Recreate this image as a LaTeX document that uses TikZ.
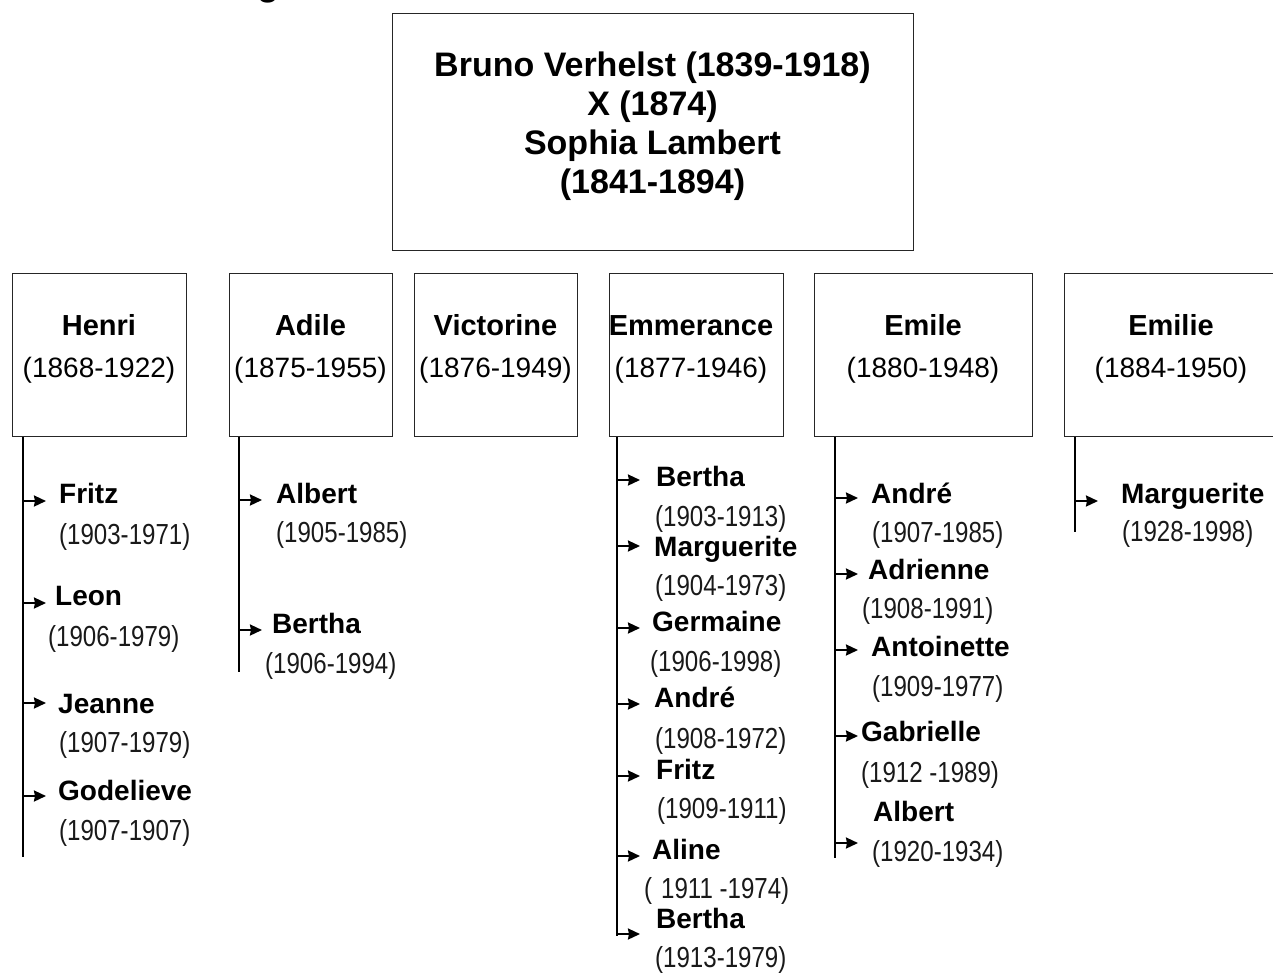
\documentclass[tikz,border=0pt]{standalone}
\usepackage{fontspec}
\setmainfont{Liberation Sans}
\newfontfamily\datefont[FakeStretch=0.83]{Liberation Sans}
\usetikzlibrary{arrows.meta}
\tikzset{
  box/.style={draw=black!85, line width=1.3pt, inner sep=0pt, anchor=north west},
  vline/.style={draw=black, line width=1.3pt},
  arr/.style={draw=black, line width=2.2pt, -{Stealth[length=12pt,width=11pt,inset=1pt]}},
  topline/.style={font=\bfseries\fontsize{34}{39}\selectfont, align=center, inner sep=0pt},
  cname/.style={anchor=base, inner sep=0pt, font=\bfseries\fontsize{29}{30}\selectfont},
  cdate/.style={anchor=base, inner sep=0pt, font=\fontsize{28}{30}\selectfont},
  gname/.style={anchor=base west, inner sep=0pt, font=\bfseries\fontsize{28}{30}\selectfont},
  gdate/.style={anchor=base west, inner sep=0pt, text=black!90, font=\datefont\fontsize{29}{30}\selectfont},
}
\newcommand{\gkid}[9]{%
  \coordinate (#1a) at (#2,#3);
  \node[gname] (#1n) at (#4,#5) {#6};
  \node[gdate] (#1d) at (#7,#8) {#9};
  \draw[arr] (#1a) -- ++(23,0) coordinate (#1e);
}
\begin{document}
\begin{tikzpicture}[x=1pt,y=-1pt]
\clip (0,0) rectangle (1273,972);
\fill[white] (0,0) rectangle (1273,972);

% cut-off title fragment
\node[anchor=base west, inner sep=0pt, font=\bfseries\fontsize{36}{40}\selectfont] (title) at (257,-5) {g};

% parents
\node[box, minimum width=521pt, minimum height=237pt] (top) at (392,13) {};
\node[topline, anchor=north] (topt) at (652.5,52) {Bruno Verhelst (1839-1918)\\X (1874)\\Sophia Lambert\\(1841-1894)};

% children boxes
\node[box, minimum width=174pt, minimum height=163pt] (henri) at (12,273) {};
\node[box, minimum width=163pt, minimum height=163pt] (adile) at (229,273) {};
\node[box, minimum width=163pt, minimum height=163pt] (victorine) at (414,273) {};
\node[box, minimum width=174pt, minimum height=163pt] (emmerance) at (609,273) {};
\node[box, minimum width=218pt, minimum height=163pt] (emile) at (814,273) {};
\node[box, minimum width=214pt, minimum height=163pt] (emilie) at (1064,273) {};

\node[cname] (henriN) at (99,335) {Henri};
\node[cdate] (henriD) at (99,377) {(1868-1922)};
\node[cname] (adileN) at (310.5,335) {Adile};
\node[cdate] (adileD) at (310.5,377) {(1875-1955)};
\node[cname] (victorineN) at (495.5,335) {Victorine};
\node[cdate] (victorineD) at (495.5,377) {(1876-1949)};
\node[cname] (emmeranceN) at (691,335) {Emmerance};
\node[cdate] (emmeranceD) at (691,377) {(1877-1946)};
\node[cname] (emileN) at (923,335) {Emile};
\node[cdate] (emileD) at (923,377) {(1880-1948)};
\node[cname] (emilieN) at (1171,335) {Emilie};
\node[cdate] (emilieD) at (1171,377) {(1884-1950)};

% vertical lines
\coordinate (hB) at (23,857);
\coordinate (aB) at (239,672);
\coordinate (mB) at (617,936);
\coordinate (eB) at (835,858);
\coordinate (iB) at (1075,532);
\draw[vline] (henri.south west -| hB) -- (hB);
\draw[vline] (adile.south west -| aB) -- (aB);
\draw[vline] (emmerance.south west -| mB) -- (mB);
\draw[vline] (emile.south west -| eB) -- (eB);
\draw[vline] (emilie.south west -| iB) -- (iB);

% Henri
\gkid{h1}{23}{501}{59}{503}{Fritz}{59}{544}{(1903-1971)}
\gkid{h2}{23}{603}{55}{605}{Leon}{48}{646}{(1906-1979)}
\gkid{h3}{23}{703}{58}{713}{Jeanne}{59}{752}{(1907-1979)}
\gkid{h4}{23}{796}{58}{800}{Godelieve}{59}{840}{(1907-1907)}

% Adile
\gkid{a1}{239}{500}{276}{503}{Albert}{276}{542}{(1905-1985)}
\gkid{a2}{239}{630}{272}{633}{Bertha}{265}{673}{(1906-1994)}

% Emmerance
\gkid{m1}{617}{480}{656}{486}{Bertha}{655}{526}{(1903-1913)}
\gkid{m2}{617}{546}{654}{556}{Marguerite}{655}{595}{(1904-1973)}
\gkid{m3}{617}{628}{652}{631}{Germaine}{650}{671}{(1906-1998)}
\gkid{m4}{617}{704}{654}{707}{André}{655}{748}{(1908-1972)}
\gkid{m5}{617}{776}{656}{779}{Fritz}{657}{818}{(1909-1911)}
\gkid{m6}{617}{856}{652}{859}{Aline}{644}{898}{(\hspace{9pt}1911 -1974)}
\gkid{m7}{617}{934}{656}{928}{Bertha}{655}{967}{(1913-1979)}

% Emile
\gkid{e1}{835}{498}{871}{503}{André}{872}{542}{(1907-1985)}
\gkid{e2}{835}{574}{868}{579}{Adrienne}{862}{618}{(1908-1991)}
\gkid{e3}{835}{650}{871}{656}{Antoinette}{872}{696}{(1909-1977)}
\gkid{e4}{835}{736}{861}{741}{Gabrielle}{861}{782}{(1912 -1989)}
\gkid{e5}{835}{843}{873}{821}{Albert}{872}{861}{(1920-1934)}

% Emilie
\gkid{i1}{1075}{501}{1121}{503}{Marguerite}{1122}{541}{(1928-1998)}
\end{tikzpicture}
\end{document}
